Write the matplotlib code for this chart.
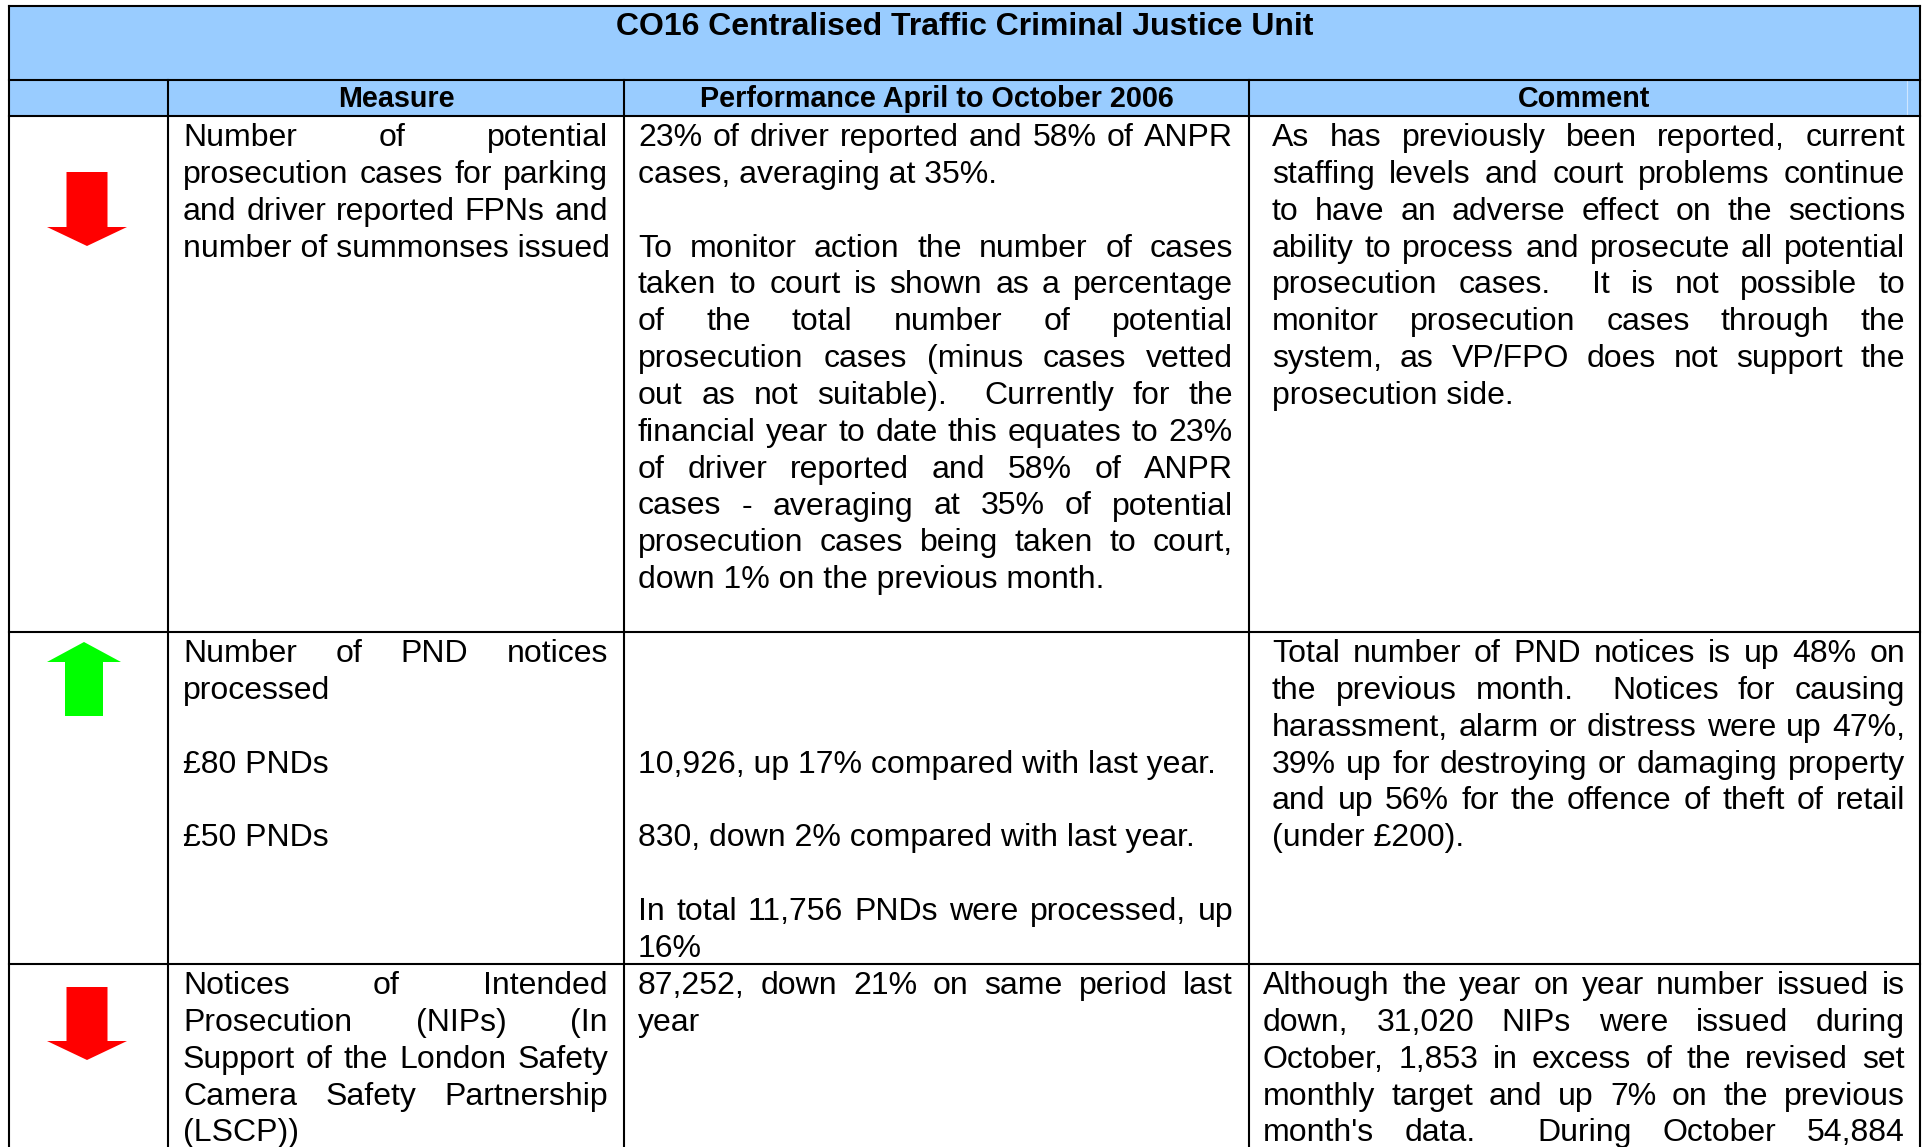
import re
import matplotlib
matplotlib.use("Agg")
import matplotlib.pyplot as plt
from matplotlib.patches import Rectangle, Polygon

plt.rcParams["font.family"] = ["Liberation Sans", "DejaVu Sans"]

W, H = 1927, 1147
BLUE = "#99ccff"
FS = 23          # body text, pt
FS_HEAD = 20.7   # column headers
LINE = 36.85     # line pitch in pixels

title = "CO16 Centralised Traffic Criminal Justice Unit"
headers = ["Measure", "Performance April to October 2006", "Comment"]
trends = ["down", "up", "down"]

measure_1 = [
    "Number of potential",
    "prosecution cases for parking",
    "and driver reported FPNs and",
    "number of summonses issued",
]
perf_1 = [
    "23% of driver reported and 58% of ANPR",
    "cases, averaging at 35%.",
    "",
    "To monitor action the number of cases",
    "taken to court is shown as a percentage",
    "of the total number of potential",
    "prosecution cases (minus cases vetted",
    "out as not suitable).  Currently for the",
    "financial year to date this equates to 23%",
    "of driver reported and 58% of ANPR",
    "cases - averaging at 35% of potential",
    "prosecution cases being taken to court,",
    "down 1% on the previous month.",
]
comment_1 = [
    "As has previously been reported, current",
    "staffing levels and court problems continue",
    "to have an adverse effect on the sections",
    "ability to process and prosecute all potential",
    "prosecution cases.  It is not possible to",
    "monitor prosecution cases through the",
    "system, as VP/FPO does not support the",
    "prosecution side.",
]

measure_2 = [
    "Number of PND notices",
    "processed",
    "",
    "£80 PNDs",
    "",
    "£50 PNDs",
]
perf_2 = [
    "",
    "",
    "",
    "10,926, up 17% compared with last year.",
    "",
    "830, down 2% compared with last year.",
    "",
    "In total 11,756 PNDs were processed, up",
    "16%",
]
comment_2 = [
    "Total number of PND notices is up 48% on",
    "the previous month.  Notices for causing",
    "harassment, alarm or distress were up 47%,",
    "39% up for destroying or damaging property",
    "and up 56% for the offence of theft of retail",
    "(under £200).",
]

measure_3 = [
    "Notices of Intended",
    "Prosecution (NIPs) (In",
    "Support of the London Safety",
    "Camera Safety Partnership",
    "(LSCP))",
]
perf_3 = [
    "87,252, down 21% on same period last",
    "year",
]
comment_3 = [
    "Although the year on year number issued is",
    "down, 31,020 NIPs were issued during",
    "October, 1,853 in excess of the revised set",
    "monthly target and up 7% on the previous",
    "month's data.  During October 54,884",
]

rows = [
    (measure_1, perf_1, comment_1),
    (measure_2, perf_2, comment_2),
    (measure_3, perf_3, comment_3),
]
# paragraph runs on below the visible part of the page
continues = {(2, 2)}

# layout (pixels)
X_LEFT, X_RIGHT = 9, 1920
COL_X = [X_LEFT, 168, 624, 1249, X_RIGHT]
Y_TOP, Y_TITLE, Y_HEAD = 6, 80, 116
ROW_Y = [Y_HEAD, 632, 964, H]
TEXT_X = [(183, 608), (638, 1233), (1272, 1905)]
ARROW_Y = [(172, 227, 246), (716, 662, 642), (987, 1041, 1060)]


def draw_lines(ax, renderer, lines, x0, x1, y0, justify_last=False):
    for i, line in enumerate(lines):
        if not line:
            continue
        y = y0 + i * LINE
        last = i == len(lines) - 1 or not lines[i + 1]
        if last and not justify_last:
            ax.text(x0, y, line, fontsize=FS, va="baseline", ha="left")
            continue
        parts = re.split(r"( +)", line)
        words = parts[0::2]
        gaps = [len(s) for s in parts[1::2]]
        texts, widths = [], []
        for w in words:
            t = ax.text(0, y, w, fontsize=FS, va="baseline", ha="left")
            texts.append(t)
            widths.append(t.get_window_extent(renderer).width)
        per = (x1 - x0 - sum(widths)) / max(sum(gaps), 1)
        x = x0
        for k, t in enumerate(texts):
            t.set_x(x)
            x += widths[k]
            if k < len(gaps):
                x += gaps[k] * per


def draw_arrow(ax, cx, y_tail, y_base, y_tip, shaft_w, head_w, color):
    pts = [
        (cx - shaft_w / 2, y_tail), (cx + shaft_w / 2, y_tail),
        (cx + shaft_w / 2, y_base), (cx + head_w / 2, y_base),
        (cx, y_tip),
        (cx - head_w / 2, y_base), (cx - shaft_w / 2, y_base),
    ]
    ax.add_patch(Polygon(pts, closed=True, facecolor=color, edgecolor="none"))


fig = plt.figure(figsize=(W / 100, H / 100), dpi=100)
ax = fig.add_axes([0, 0, 1, 1])
ax.set_xlim(0, W)
ax.set_ylim(H, 0)
ax.axis("off")
renderer = fig.canvas.get_renderer()

# blue bands
ax.add_patch(Rectangle((X_LEFT, Y_TOP), X_RIGHT - X_LEFT, Y_HEAD - Y_TOP,
                       facecolor=BLUE, edgecolor="none"))
# faint cell edge left over in the header row
ax.plot([1907, 1907], [Y_TITLE, Y_HEAD], color="#cfe6ff", lw=0.8)

lw = 1.5
ax.plot([X_LEFT, X_RIGHT], [Y_TOP, Y_TOP], color="black", lw=lw)
for y in [Y_TITLE] + ROW_Y[:-1]:
    ax.plot([X_LEFT, X_RIGHT], [y, y], color="black", lw=lw)
ax.plot([X_LEFT, X_LEFT], [Y_TOP, H], color="black", lw=lw)
ax.plot([X_RIGHT, X_RIGHT], [Y_TOP, H], color="black", lw=lw)
for x in COL_X[1:-1]:
    ax.plot([x, x], [Y_TITLE, H], color="black", lw=lw)

ax.text((X_LEFT + X_RIGHT) / 2, 35, title, fontsize=FS, fontweight="bold",
        ha="center", va="baseline")
for k, h in enumerate(headers):
    ax.text((COL_X[k + 1] + COL_X[k + 2]) / 2, 107, h, fontsize=FS_HEAD,
            fontweight="bold", ha="center", va="baseline")

for r, cells in enumerate(rows):
    top = ROW_Y[r]
    for c, lines in enumerate(cells):
        x0, x1 = TEXT_X[c]
        if r == 2 and c == 2:
            x0 = 1263
        draw_lines(ax, renderer, lines, x0, x1, top + 30,
                   justify_last=(r, c) in continues)
    yt, yb, ytip = ARROW_Y[r]
    if trends[r] == "down":
        draw_arrow(ax, 87, yt, yb, ytip, 41, 80, "#ff0000")
    else:
        draw_arrow(ax, 84, yt, yb, ytip, 38, 74, "#00ff00")

fig.savefig("out.png", dpi=100)
